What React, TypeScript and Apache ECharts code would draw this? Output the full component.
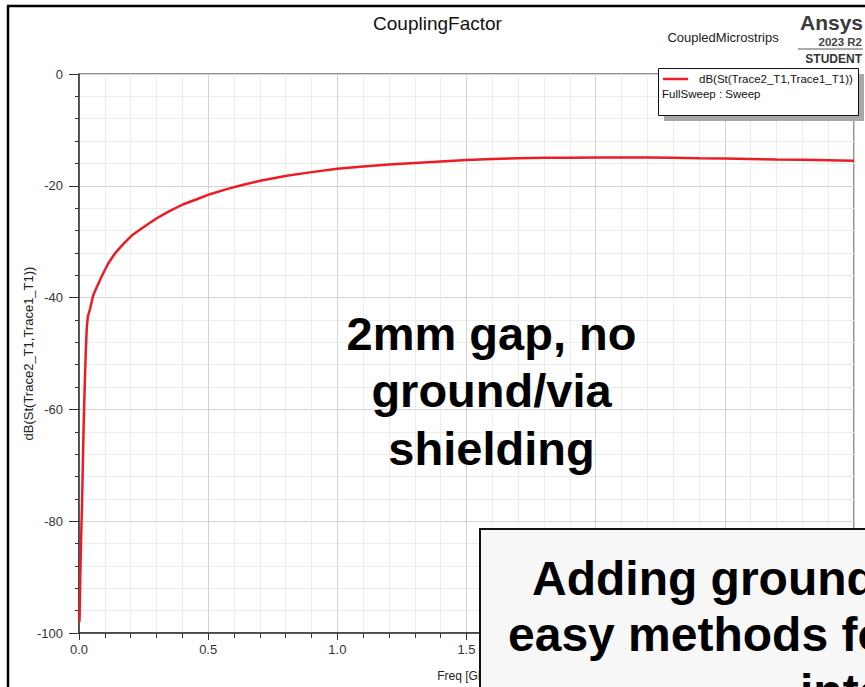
import React, { useEffect, useRef } from "react";
import * as echarts from "echarts";

const freqGHz = [
  0.002, 0.005, 0.008, 0.012, 0.015, 0.018, 0.022, 0.026, 0.03, 0.034, 0.043,
  0.055, 0.072, 0.09, 0.113, 0.139, 0.172, 0.204, 0.249, 0.301, 0.352, 0.404,
  0.456, 0.507, 0.572, 0.636, 0.701, 0.804, 0.894, 1.0, 1.1, 1.2, 1.3, 1.4, 1.5,
  1.6, 1.7, 1.8, 1.9, 2.0, 2.1, 2.2, 2.3, 2.4, 2.5, 2.6, 2.7, 2.8, 2.9, 3.0,
];
const couplingDb = [
  -98, -90, -83.5, -76.5, -69.5, -63, -56, -50, -45.5, -43.4, -42, -39.6, -37.8,
  -36.0, -33.9, -32.1, -30.4, -28.9, -27.4, -25.8, -24.5, -23.3, -22.4, -21.5,
  -20.6, -19.8, -19.1, -18.2, -17.6, -16.95, -16.55, -16.2, -15.9, -15.65,
  -15.4, -15.2, -15.08, -15.0, -14.97, -14.95, -14.95, -14.95, -14.97, -15.05,
  -15.12, -15.2, -15.28, -15.35, -15.42, -15.5,
];
const xTickLabelsShown = ["0.0", "0.5", "1.0", "1.5"];
const seriesName = "dB(St(Trace2_T1,Trace1_T1))";
const sweepLabel = "FullSweep : Sweep";
const chartTitle = "CouplingFactor";
const designName = "CoupledMicrostrips";
const noteLines = ["2mm gap, no", "ground/via", "shielding"];
const boxLines = ["Adding ground/vias are", "easy methods for reducing", "interference"];

const FONT = "'Liberation Sans', Arial, Helvetica, sans-serif";

export default function App() {
  const ref = useRef<HTMLDivElement>(null);
  useEffect(() => {
    if (!ref.current) return;
    const chart = echarts.init(ref.current, null, { renderer: "svg" });
    const red = "#ec1c24";
    const option: any = {
      animation: false,
      backgroundColor: "#ffffff",
      textStyle: { fontFamily: FONT },
      grid: {
        left: 79,
        top: 74,
        right: 11,
        bottom: 50,
        show: true,
        borderColor: "#222",
        borderWidth: 1,
        backgroundColor: "transparent",
      },
      legend: {
        left: 663,
        top: 73,
        padding: 0,
        z: 60,
        icon: "rect",
        itemWidth: 25,
        itemHeight: 2.5,
        data: [seriesName],
        textStyle: {
          fontFamily: FONT,
          fontSize: 11.5,
          color: "#111",
          padding: [0, 0, 0, 6],
        },
      },
      xAxis: {
        type: "value",
        min: 0,
        max: 3,
        interval: 0.5,
        name: "Freq [GHz]",
        nameLocation: "middle",
        nameGap: 37,
        nameMoveOverlap: false,
        nameTextStyle: { fontFamily: FONT, fontSize: 12, color: "#222" },
        axisLine: { show: true, onZero: false, lineStyle: { color: "#333", width: 1.5 } },
        axisTick: { show: true, length: 7, lineStyle: { color: "#333" } },
        minorTick: { show: true, splitNumber: 5, length: 5, lineStyle: { color: "#333" } },
        splitLine: { show: true, lineStyle: { color: "#d2d2d2", width: 1 } },
        minorSplitLine: { show: true, lineStyle: { color: "#ececec", width: 1 } },
        axisLabel: {
          margin: 10,
          fontFamily: FONT,
          fontSize: 13,
          color: "#333",
          formatter: (v: number) => {
            const s = v.toFixed(1);
            return xTickLabelsShown.includes(s) ? s : "";
          },
        },
      },
      yAxis: {
        type: "value",
        min: -100,
        max: 0,
        interval: 20,
        name: seriesName,
        nameLocation: "middle",
        nameRotate: 90,
        nameGap: 44,
        nameMoveOverlap: false,
        nameTextStyle: { fontFamily: FONT, fontSize: 13, color: "#222" },
        axisLine: { show: true, onZero: false, lineStyle: { color: "#333", width: 1.5 } },
        axisTick: { show: true, length: 10, lineStyle: { color: "#333" } },
        minorTick: { show: true, splitNumber: 5, length: 4, lineStyle: { color: "#333" } },
        splitLine: { show: true, lineStyle: { color: "#d2d2d2", width: 1 } },
        minorSplitLine: { show: true, lineStyle: { color: "#ececec", width: 1 } },
        axisLabel: { margin: 16, fontFamily: FONT, fontSize: 13, color: "#333" },
      },
      series: [
        {
          name: seriesName,
          type: "line",
          data: freqGHz.map((f, i) => [f, couplingDb[i]]),
          showSymbol: false,
          clip: true,
          lineStyle: { color: red, width: 2.5 },
          itemStyle: { color: red },
          z: 3,
        },
      ],
      graphic: [
        { type: "line", z: 100, shape: { x1: 8, y1: 6, x2: 8, y2: 690 }, style: { stroke: "#000", lineWidth: 2.5 } },
        { type: "line", z: 100, shape: { x1: 7, y1: 6, x2: 870, y2: 6 }, style: { stroke: "#000", lineWidth: 2.5 } },
        {
          type: "text", z: 100, x: 437.5, y: 23,
          style: { text: chartTitle, font: `19px ${FONT}`, fill: "#111", align: "center", verticalAlign: "middle" },
        },
        {
          type: "text", z: 100, x: 723, y: 37,
          style: { text: designName, font: `13px ${FONT}`, fill: "#222", align: "center", verticalAlign: "middle" },
        },
        {
          type: "text", z: 100, x: 863, y: 22.5,
          style: { text: "Ansys", font: `bold 21px ${FONT}`, fill: "#3a3a3a", align: "right", verticalAlign: "middle" },
        },
        {
          type: "text", z: 100, x: 862, y: 42,
          style: { text: "2023 R2", font: `bold 11.5px ${FONT}`, fill: "#444", align: "right", verticalAlign: "middle" },
        },
        { type: "line", z: 100, shape: { x1: 798, y1: 49, x2: 863, y2: 49 }, style: { stroke: "#555", lineWidth: 1 } },
        {
          type: "text", z: 100, x: 862, y: 58.5,
          style: { text: "STUDENT", font: `bold 12px ${FONT}`, fill: "#333", align: "right", verticalAlign: "middle" },
        },
        { type: "rect", z: 50, shape: { x: 664, y: 74, width: 200, height: 47 }, style: { fill: "#a8a8a8" } },
        { type: "rect", z: 51, shape: { x: 658.5, y: 68.5, width: 200, height: 47 }, style: { fill: "#fff", stroke: "#111", lineWidth: 1 } },
        {
          type: "text", z: 61, x: 662, y: 94,
          style: { text: sweepLabel, font: `11.5px ${FONT}`, fill: "#111", align: "left", verticalAlign: "middle" },
        },
        ...noteLines.map((t, i) => ({
          type: "text", z: 100, x: 491.5, y: 333 + i * 57.5,
          style: { text: t, font: `bold 47px ${FONT}`, fill: "#000", align: "center", verticalAlign: "middle" },
        })),
        { type: "rect", z: 110, shape: { x: 480, y: 529, width: 420, height: 200 }, style: { fill: "#f7f7f7", stroke: "#111", lineWidth: 2 } },
        ...boxLines.map((t, i) => ({
          type: "text", z: 111, x: [532, 508, 800][i], y: 578 + i * 56.5,
          style: { text: t, font: `bold 48px ${FONT}`, fill: "#000", align: "left", verticalAlign: "middle" },
        })),
      ],
    };
    chart.setOption(option);
    return () => chart.dispose();
  }, []);
  return (
    <div
      ref={ref}
      style={{ position: "absolute", left: 0, top: 0, width: 865, height: 687, background: "#fff" }}
    />
  );
}
